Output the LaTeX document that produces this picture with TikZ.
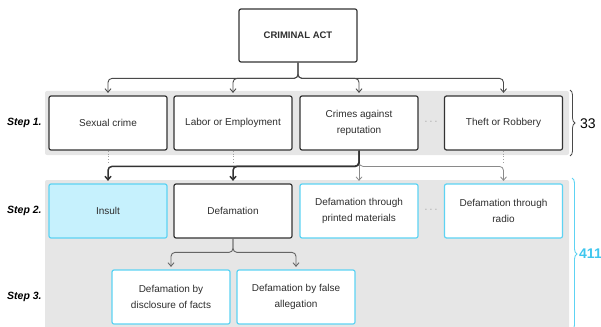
\documentclass[tikz,border=0pt]{standalone}
\usepackage{fontspec}
\setmainfont{Liberation Sans}
\usetikzlibrary{arrows.meta,decorations.pathreplacing}
\definecolor{band}{HTML}{E6E6E6}
\definecolor{boxline}{HTML}{333333}
\definecolor{cyanline}{HTML}{5DD3F3}
\definecolor{cyanfill}{HTML}{C6F1FD}
\definecolor{cyantext}{HTML}{3EC6EE}
\definecolor{txt}{HTML}{2E2E2E}
\definecolor{conncol}{HTML}{4A4A4A}
\definecolor{lightcol}{HTML}{8A8A8A}
\definecolor{dotcol}{HTML}{A0A0A0}
\begin{document}
\begin{tikzpicture}[x=1pt,y=-1pt,
  box/.style={draw=boxline, line width=1.2pt, rounded corners=2pt, fill=white,
    minimum width=118pt, minimum height=54pt, inner sep=0pt, align=center,
    text=txt, font=\fontsize{10}{16.5}\selectfont},
  cbox/.style={box, draw=cyanline},
  ibox/.style={box, draw=cyanline, fill=cyanfill},
  conn/.style={draw=conncol, line width=0.9pt, rounded corners=4pt,
    -{Straight Barb[length=3.5pt,width=6pt]}, shorten >=2.5pt},
  lightconn/.style={conn, draw=lightcol, line width=0.8pt},
  hlconn/.style={conn, draw=boxline, line width=1.5pt},
  dotline/.style={draw=dotcol, line width=0.9pt, dotted},
  ell/.style={text=dotcol, font=\fontsize{10}{12}\selectfont, inner sep=0pt},
  steplbl/.style={font=\fontsize{10.5}{12}\selectfont\bfseries\itshape, text=black, inner sep=0pt},
  bandfill/.style={fill=band, rounded corners=2pt}
]
\useasboundingbox (0,0) rectangle (601,326);
% bands
\fill[bandfill] (45,91) rectangle (569,155);
\fill[bandfill] (45,180) rectangle (569,345);

% top
\node[box, minimum height=53pt, font=\fontsize{9.5}{12}\selectfont\bfseries] (ca) at (298,35.5) {CRIMINAL ACT};

% step 1
\node[box] (sex) at (108,123) {Sexual crime};
\node[box] (lab) at (233,123) {Labor or Employment};
\node[box] (rep) at (359,123) {Crimes against\\reputation};
\node[box] (thf) at (503.5,123) {Theft or Robbery};
\node[ell] (e1) at (431,123) {·\,·\,·};

% step 2
\node[ibox] (ins) at (108,211) {Insult};
\node[box] (def) at (233,211) {Defamation};
\node[cbox] (prt) at (359,211) {Defamation through\\printed materials};
\node[cbox] (rad) at (503.5,211) {Defamation through\\radio};
\node[ell] (e2) at (431,211) {·\,·\,·};

% step 3
\node[cbox] (dis) at (171,297) {Defamation by\\disclosure of facts};
\node[cbox] (fal) at (296,297) {Defamation by false\\allegation};

% step labels
\node[steplbl, anchor=west] (s1) at (7,123) {Step 1.};
\node[steplbl, anchor=west] (s2) at (7,211) {Step 2.};
\node[steplbl, anchor=west] (s3) at (7,297) {Step 3.};

% connectors top -> step 1
\draw[conn] (ca.south) |- ([yshift=17pt]sex.north) -- (sex.north);
\draw[conn] (ca.south) |- ([yshift=17pt]lab.north) -- (lab.north);
\draw[conn] (ca.south) |- ([yshift=17pt]rep.north) -- (rep.north);
\draw[conn] (ca.south) |- ([yshift=17pt]thf.north) -- (thf.north);

% dotted
\coordinate (dsex) at (108,164);
\coordinate (dlab) at (233,164);
\coordinate (dthf) at (503.5,164);
\draw[dotline] (sex.south) -- (dsex);
\draw[dotline] (lab.south) -- (dlab);
\draw[dotline] (thf.south) -- (dthf);

% step 1 -> step 2
\draw[lightconn] (rep.south) |- ([yshift=17pt]rad.north) -- (rad.north);
\draw[lightconn] (rep.south) -- (prt.north);
\draw[hlconn] (rep.south) |- ([yshift=17pt]def.north) -- (def.north);
\draw[hlconn] (rep.south) |- ([yshift=17pt]ins.north) -- (ins.north);

% step 2 -> step 3
\draw[conn, draw=conncol!85] (def.south) |- ([yshift=17pt]dis.north) -- (dis.north);
\draw[conn, draw=conncol!85] (def.south) |- ([yshift=17pt]fal.north) -- (fal.north);

% braces
\coordinate (b1t) at (570,90);
\coordinate (b1b) at (570,156);
\draw[draw=conncol, line width=0.8pt, decorate, decoration={brace, amplitude=5pt}] (b1t) -- (b1b);
\node[anchor=west, inner sep=0pt, font=\fontsize{14}{16}\selectfont, text=black] (n33) at (580,123.5) {33};

\coordinate (b2t) at (572,178);
\coordinate (b2b) at (572,330);
\draw[draw=cyanline, line width=0.9pt, decorate, decoration={brace, amplitude=5pt}] (b2t) -- (b2b);
\node[anchor=west, inner sep=0pt, font=\fontsize{14}{16}\selectfont\bfseries, text=cyantext] (n411) at (579,254) {411};
\end{tikzpicture}
\end{document}
